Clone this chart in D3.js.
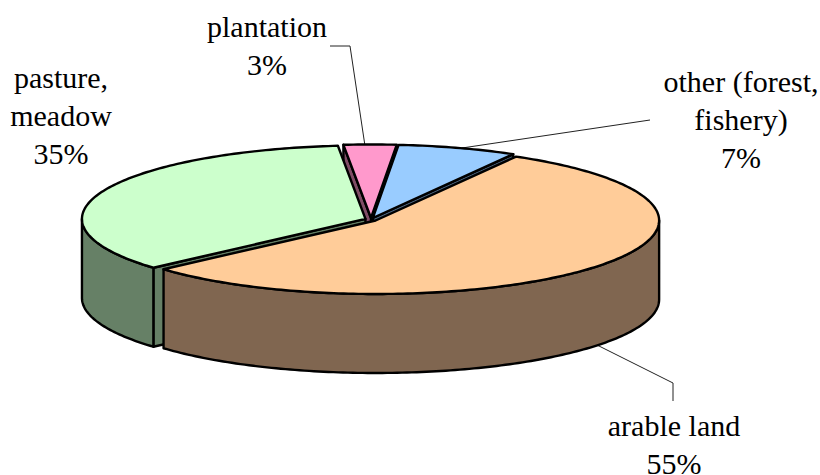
<!DOCTYPE html>
<html><head><meta charset="utf-8">
<script src="https://cdn.jsdelivr.net/npm/d3@7"></script>
<style>html,body{margin:0;padding:0;background:#fff;overflow:hidden}svg{display:block}text{font-family:"Liberation Serif","Times New Roman",serif;fill:#000}</style>
</head><body><svg id="c" width="820" height="475"></svg>
<script>
const categories = ["arable land","pasture, meadow","plantation","other (forest, fishery)"];
const values = [55.2,35,3,6.8];
const labelLines = [["arable land","55%"],["pasture,","meadow","35%"],["plantation","3%"],["other (forest,","fishery)","7%"]];
const topColors = ["#FFCC99","#CCFFCC","#FF99CC","#99CCFF"];
const sideColors = ["#806650","#668066","#804D66","#4D6680"];

const W=820,H=475,cx=371,cy=219.5,rx=283.5,ry=73.5,depth=79,explode=0.021,fontSize=30,lineH=38;
const rad=d=>d*Math.PI/180;
const svg=d3.select("#c");
const startDeg=29.7;
const pie=d3.pie().sort(null).startAngle(rad(startDeg)).endAngle(rad(startDeg+360));
const arcs=pie(values).map((a,i)=>{
  const mid=(a.startAngle+a.endAngle)/2;
  return {...a,i,ox:cx+explode*rx*Math.sin(mid),oy:cy-explode*ry*Math.cos(mid)};
});
const pt=(a,t,dy=0)=>[a.ox+rx*Math.sin(t),a.oy-ry*Math.cos(t)+dy];
const samples=(t0,t1)=>{const n=Math.max(2,Math.ceil((t1-t0)/rad(1)));return d3.range(n+1).map(k=>t0+(t1-t0)*k/n);};
const line=d3.line();
const stroke=(s,fill)=>s.attr("fill",fill).attr("stroke","#000").attr("stroke-width",2.4).attr("stroke-linejoin","round");
function drawCut(a,t){
  const p=pt(a,t),q=[a.ox,a.oy];
  stroke(svg.append("path").attr("d",line([p,q,[q[0],q[1]+depth],[p[0],p[1]+depth]])+"Z"),sideColors[a.i]);
}
function drawWall(a){
  const t0=Math.max(a.startAngle,rad(90)),t1=Math.min(a.endAngle,rad(270));
  if(t1<=t0)return;
  const s=samples(t0,t1);
  const up=s.map(t=>pt(a,t)),down=s.slice().reverse().map(t=>pt(a,t,depth));
  stroke(svg.append("path").attr("d",line(up.concat(down))+"Z"),sideColors[a.i]);
}
function drawTop(a){
  const pts=samples(a.startAngle,a.endAngle).map(t=>pt(a,t));
  stroke(svg.append("path").attr("d",line([[a.ox,a.oy],...pts])+"Z"),topColors[a.i]);
}
const [arable,pasture,plantation,other]=arcs;
// leader lines sit behind the pie
const leaders=[
  [[597,345],[673,383],[673,401]],
  [[330,46],[350,46],[365,146]],
  [[650,120],[462,148]]
];
leaders.forEach(l=>svg.append("path").attr("d",line(l)).attr("fill","none").attr("stroke","#222").attr("stroke-width",1));
// painter's order, back to front
drawCut(plantation,plantation.startAngle);
drawCut(other,other.endAngle);
drawCut(pasture,pasture.startAngle);
drawWall(pasture);
drawTop(pasture);
drawTop(plantation);
drawTop(other);
drawWall(arable);
drawTop(arable);
// labels
const labelPos=[[674,436],[61,88],[267,37],[741,92]];
labelLines.forEach((ls,i)=>{
  const t=svg.append("text").attr("text-anchor","middle").attr("font-size",fontSize);
  ls.forEach((s,k)=>t.append("tspan").attr("x",labelPos[i][0]).attr("y",labelPos[i][1]+k*lineH).text(s));
});
</script></body></html>
